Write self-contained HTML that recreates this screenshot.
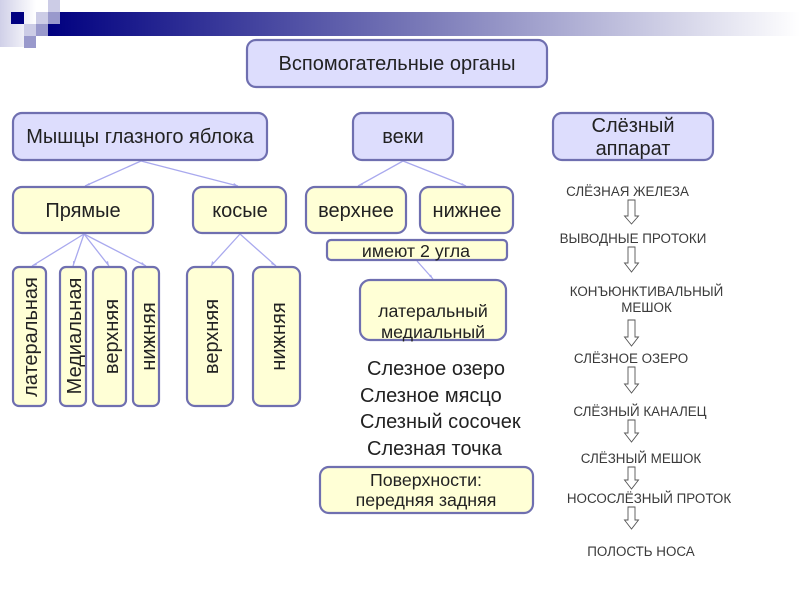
<!DOCTYPE html>
<html><head><meta charset="utf-8"><style>
html,body{margin:0;padding:0;background:#fff;width:800px;height:600px;overflow:hidden}
svg{display:block}
text{font-family:"Liberation Sans",sans-serif;fill:#222}
.b{fill:#ddddfd;stroke:#6f6fb0;stroke-width:2.2}
.y{fill:#ffffd6;stroke:#6f6fb0;stroke-width:2.2}
.l{stroke:#a9a9ee;stroke-width:1.3;fill:none}
.h{fill:#a9a9ee}
.a{fill:#fff;stroke:#555;stroke-width:.9}
.s{font-size:13.4px;fill:#3a3a3a;text-anchor:middle}
.m{text-anchor:middle}
.f{font-size:20px}
.e{font-size:17.8px}
</style></head><body>
<svg width="800" height="600" viewBox="0 0 800 600" xmlns="http://www.w3.org/2000/svg">
<defs>
<linearGradient id="g1" x1="0" x2="1" y1="0" y2="0"><stop offset="0" stop-color="#000080"/><stop offset=".5" stop-color="#7a7ab8"/><stop offset="1" stop-color="#ffffff"/></linearGradient>
<linearGradient id="g2" x1="0" x2="1" y1="0" y2="0"><stop offset="0" stop-color="#d0d0e8"/><stop offset="1" stop-color="#ffffff"/></linearGradient>
</defs>
<rect x="0" y="0" width="36" height="47" fill="url(#g2)"/>
<rect x="48" y="12" width="752" height="24" fill="url(#g1)"/>
<rect x="11" y="12" width="13" height="12" fill="#000080"/>
<rect x="36" y="12" width="12" height="12" fill="#ccccE6"/>
<rect x="48" y="12" width="12" height="12" fill="#9999cc"/>
<rect x="48" y="0" width="12" height="12" fill="#ccccE6"/>
<rect x="24" y="24" width="12" height="12" fill="#ccccE6"/>
<rect x="36" y="24" width="12" height="12" fill="#9999cc"/>
<rect x="24" y="36" width="12" height="12" fill="#9999cc"/>

<path class="l" d="M141 161L85 186M141 161L238 186M403 161L358 186M403 161L466 186M84 234L32 266M84 234L73 266M84 234L109 266M84 234L146 266M240 234L211 266M240 234L276 266M417 261L433 279"/>
<path class="h" d="M85 186l4-3 1 2zM238 186l-4-3-1 2zM358 186l4-3 1 2zM466 186l-4-3-1 2zM32 266l4-3 1 2zM73 266l0-5 2 .5zM109 266l-3-4 2-1zM146 266l-5-2 1-2zM211 266l1-5 2 1.500zM276 266l-5-2 1.500-2zM433 279l-4-3 2-1.500z"/>

<rect class="b" x="247" y="40" width="300" height="47" rx="9"/>
<text class="m f" x="397" y="70">Вспомогательные органы</text>
<rect class="b" x="13" y="113" width="254" height="47" rx="9"/>
<text class="m f" x="140" y="143">Мышцы глазного яблока</text>
<rect class="b" x="353" y="113" width="100" height="47" rx="9"/>
<text class="m f" x="403" y="143">веки</text>
<rect class="b" x="553" y="113" width="160" height="47" rx="9"/>
<text class="m f" x="633" y="132">Слёзный</text>
<text class="m f" x="633" y="155">аппарат</text>

<rect class="y" x="13" y="187" width="140" height="46" rx="9"/>
<text class="m f" x="83" y="217">Прямые</text>
<rect class="y" x="193" y="187" width="93" height="46" rx="9"/>
<text class="m f" x="240" y="217">косые</text>
<rect class="y" x="306" y="187" width="100" height="46" rx="9"/>
<text class="m f" x="356" y="217">верхнее</text>
<rect class="y" x="420" y="187" width="93" height="46" rx="9"/>
<text class="m f" x="467" y="217">нижнее</text>

<rect class="y" x="327" y="240" width="180" height="20" rx="4"/>
<text class="m e" x="416" y="257">имеют 2 угла</text>
<rect class="y" x="360" y="280" width="146" height="60" rx="10"/>
<text class="m e" x="433" y="317">латеральный</text>
<text class="m e" x="433" y="338">медиальный</text>

<rect class="y" x="13" y="267" width="33" height="139" rx="6"/>
<rect class="y" x="60" y="267" width="26" height="139" rx="6"/>
<rect class="y" x="93" y="267" width="33" height="139" rx="6"/>
<rect class="y" x="133" y="267" width="26" height="139" rx="6"/>
<rect class="y" x="187" y="267" width="46" height="139" rx="8"/>
<rect class="y" x="253" y="267" width="47" height="139" rx="8"/>
<text class="m f" transform="translate(37,337) rotate(-90)">латеральная</text>
<text class="m f" transform="translate(81,336) rotate(-90)">Медиальная</text>
<text class="m f" transform="translate(118,336.500) rotate(-90)">верхняя</text>
<text class="m f" transform="translate(155,336.500) rotate(-90)">нижняя</text>
<text class="m f" transform="translate(218,336.500) rotate(-90)">верхняя</text>
<text class="m f" transform="translate(285,336.500) rotate(-90)">нижняя</text>

<text class="f" x="367" y="375">Слезное озеро</text>
<text class="f" x="360" y="402">Слезное мясцо</text>
<text class="f" x="360" y="428">Слезный сосочек</text>
<text class="f" x="367" y="455">Слезная точка</text>
<rect class="y" x="320" y="467" width="213" height="46" rx="9"/>
<text class="m e" x="426" y="486">Поверхности:</text>
<text class="m e" x="426" y="506">передняя задняя</text>

<text class="s" x="627.500" y="196">СЛЁЗНАЯ ЖЕЛЕЗА</text>
<text class="s" x="633" y="243">ВЫВОДНЫЕ ПРОТОКИ</text>
<text class="s" x="646.500" y="296">КОНЪЮНКТИВАЛЬНЫЙ</text>
<text class="s" x="646.500" y="312">МЕШОК</text>
<text class="s" x="631" y="363">СЛЁЗНОЕ ОЗЕРО</text>
<text class="s" x="640" y="416">СЛЁЗНЫЙ КАНАЛЕЦ</text>
<text class="s" x="641" y="463">СЛЁЗНЫЙ МЕШОК</text>
<text class="s" x="649" y="503">НОСОСЛЁЗНЫЙ ПРОТОК</text>
<text class="s" x="641" y="556">ПОЛОСТЬ НОСА</text>

<path class="a" d="M628 200H635V216H638.500L631.500 224L624.500 216H628Z"/>
<path class="a" d="M628 247H635V263H638.500L631.500 272L624.500 263H628Z"/>
<path class="a" d="M628 320H635V337H638.500L631.500 346L624.500 337H628Z"/>
<path class="a" d="M628 367H635V384H638.500L631.500 393L624.500 384H628Z"/>
<path class="a" d="M628 420H635V433H638.500L631.500 442L624.500 433H628Z"/>
<path class="a" d="M628 467H635V480H638.500L631.500 489L624.500 480H628Z"/>
<path class="a" d="M628 507H635V520H638.500L631.500 529L624.500 520H628Z"/>
</svg>
</body></html>
